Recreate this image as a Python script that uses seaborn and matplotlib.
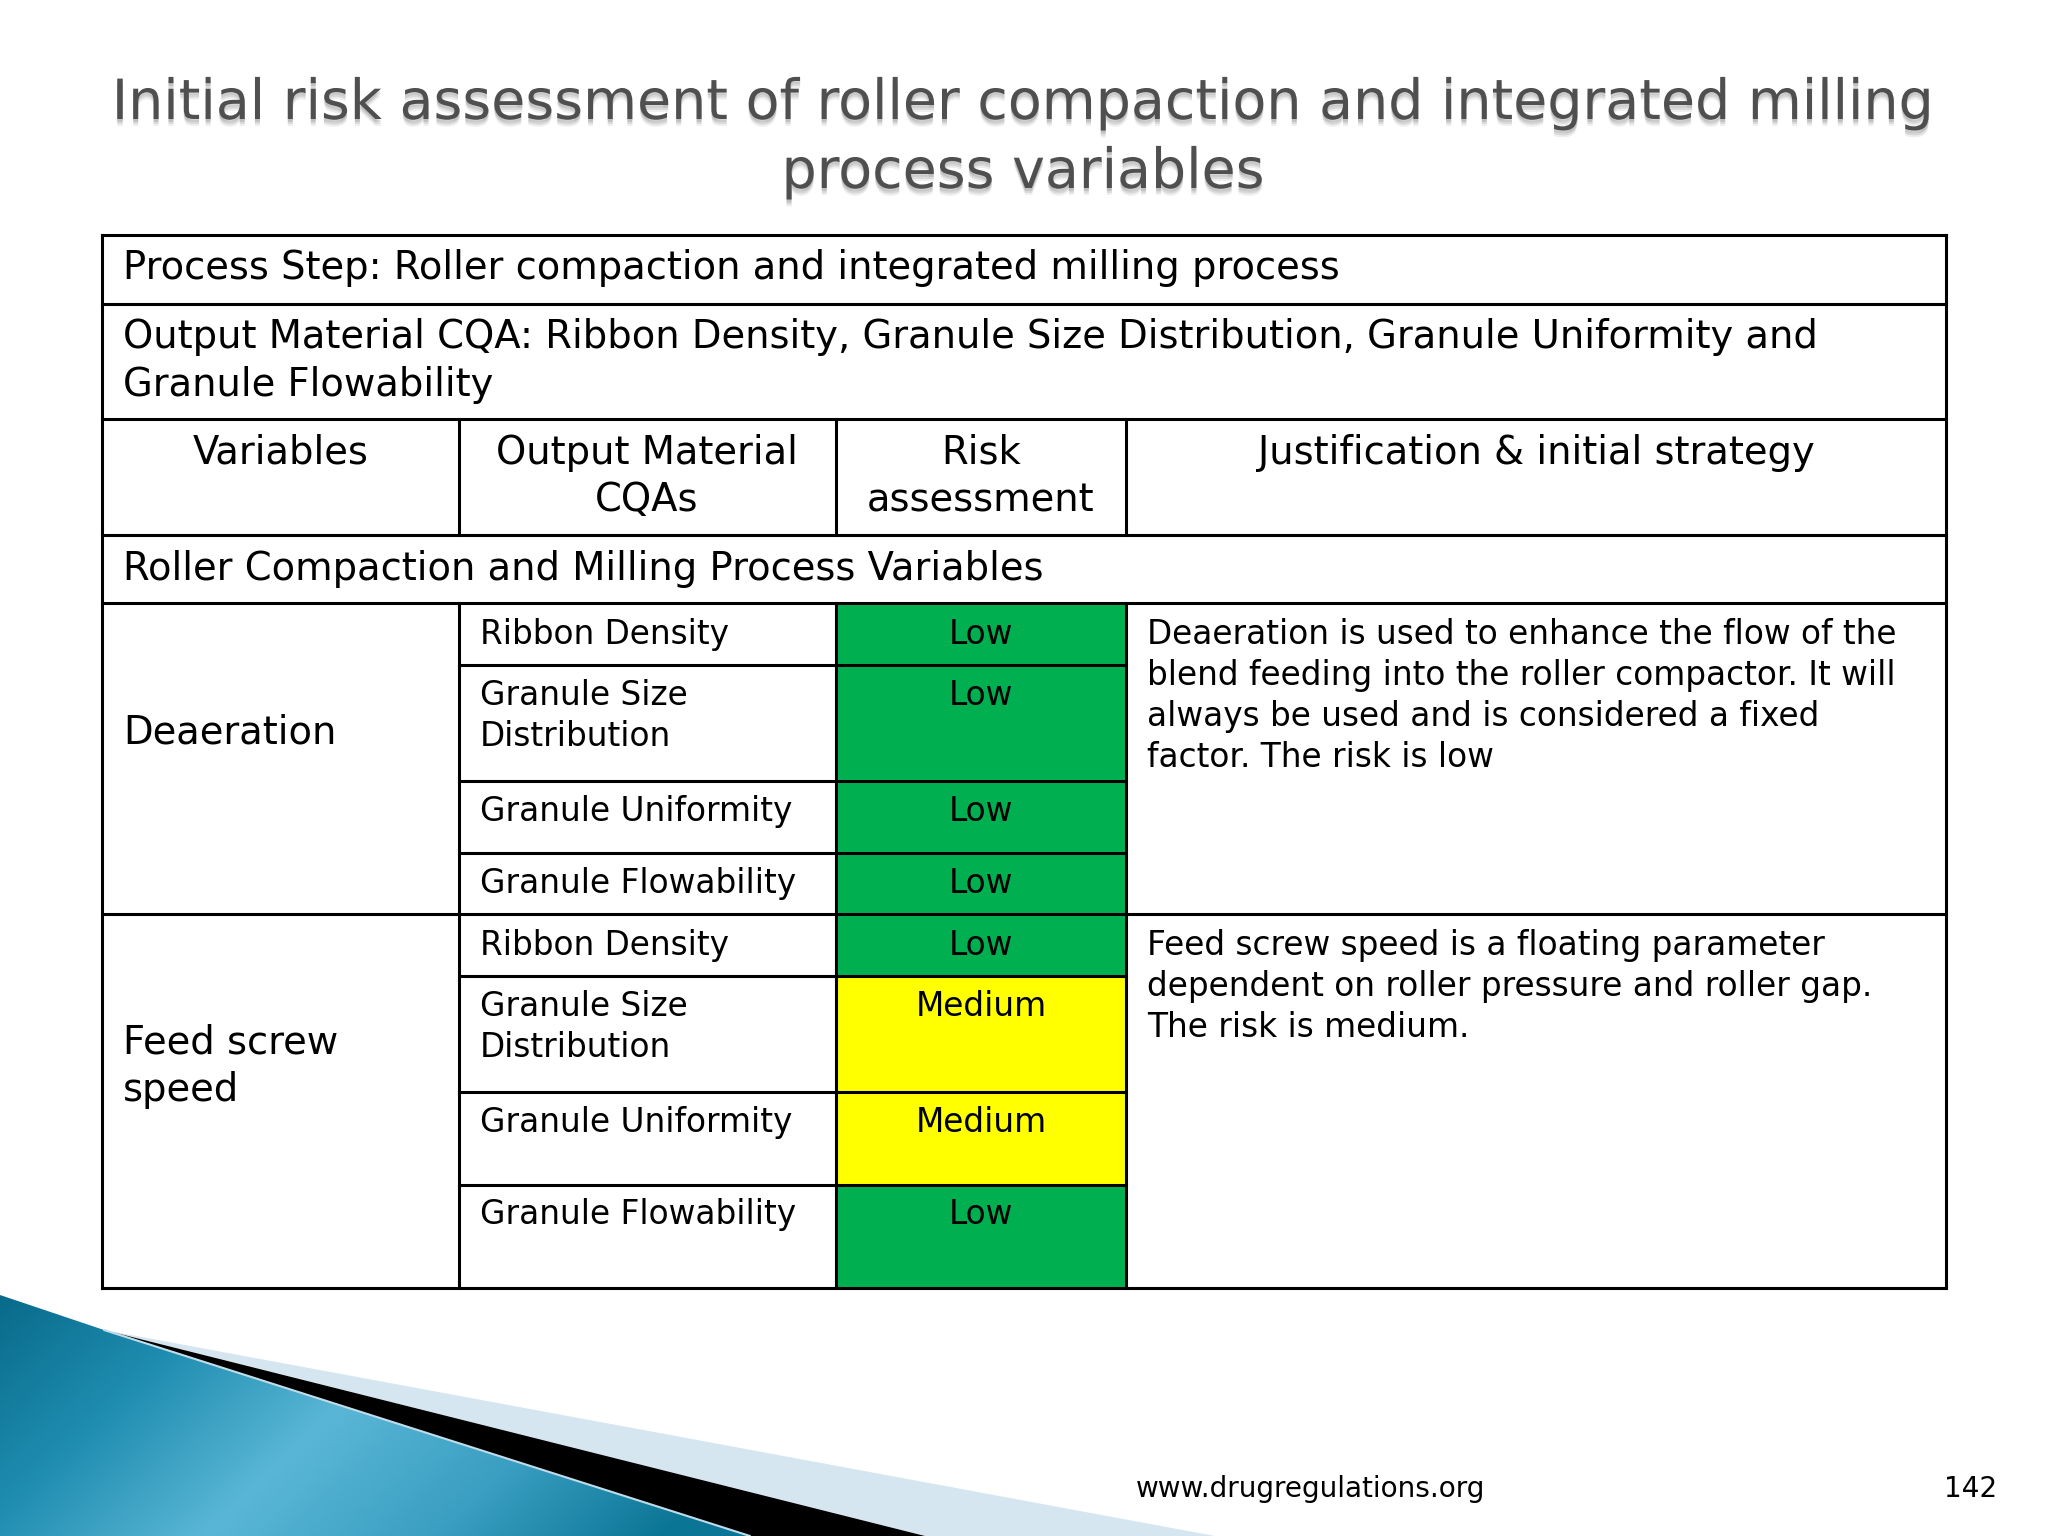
import numpy as np
import matplotlib
matplotlib.use("Agg")
import matplotlib.pyplot as plt
import matplotlib.patheffects as pe
import seaborn as sns
from matplotlib.colors import ListedColormap, LinearSegmentedColormap
from matplotlib.patches import Polygon

sns.set_theme(style="white")
plt.rcParams['font.family'] = ['DejaVu Sans']

title_lines = ["Initial risk assessment of roller compaction and integrated milling", "process variables"]
step_text = "Process Step: Roller compaction and integrated milling process"
output_lines = ["Output Material CQA: Ribbon Density, Granule Size Distribution, Granule Uniformity and", "Granule Flowability"]
section_text = "Roller Compaction and Milling Process Variables"
cqas = [["Ribbon Density"], ["Granule Size", "Distribution"], ["Granule Uniformity"], ["Granule Flowability"],
        ["Ribbon Density"], ["Granule Size", "Distribution"], ["Granule Uniformity"], ["Granule Flowability"]]
risk_labels = ["Low", "Low", "Low", "Low", "Low", "Medium", "Medium", "Low"]
level_of = {"Low": 0, "Medium": 1}
just1 = ["Deaeration is used to enhance the flow of the", "blend feeding into the roller compactor. It will",
         "always be used and is considered a fixed", "factor. The risk is low"]
just2 = ["Feed screw speed is a floating parameter", "dependent on roller pressure and roller gap.", "The risk is medium."]

W, H = 2048, 1536
X = [102, 459, 836, 1126, 1946]
Y = [235, 304, 419, 535, 603, 665, 781, 853, 914, 976, 1092, 1185, 1288]
risk_cmap = ListedColormap(["#00B050", "#FFFF00"])

fig = plt.figure(figsize=(20.48, 15.36), dpi=100, facecolor="white")
ax = fig.add_axes([0, 0, 1, 1])
ax.set_xlim(0, W); ax.set_ylim(H, 0); ax.axis("off")

# decorative corner
light = Polygon([(104, 1330), (1215, 1536), (925, 1536)], fc="#D6E6F0", ec="none", zorder=1)
ax.add_patch(light)
black = Polygon([(112, 1332), (925, 1536), (750, 1536)], fc="black", ec="none", zorder=2)
ax.add_patch(black)
blue = Polygon([(0, 1295), (104, 1330), (750, 1536), (0, 1536)], fc="none", ec="none", zorder=3)
ax.add_patch(blue)
grad = LinearSegmentedColormap.from_list("g", ["#086A8A", "#1F8DB0", "#5AB6D6", "#3A9FC2", "#0B7596"])
gx, gy = np.meshgrid(np.linspace(0, 1, 300), np.linspace(0, 1, 120))
im = ax.imshow(np.clip(0.82 * gx + 0.28 * gy, 0, 1), extent=[0, 760, H, 1290], origin="upper",
               cmap=grad, aspect="auto", zorder=3)
im.set_clip_path(blue)
ax.set_xlim(0, W); ax.set_ylim(H, 0)
ax.plot([104, 750], [1330, 1536], color="#BFDCE8", lw=1.5, zorder=4)

# risk cells
for i, lab in enumerate(risk_labels):
    y0, y1 = Y[4 + i], Y[5 + i]
    cax = fig.add_axes([X[2] / W, 1 - y1 / H, (X[3] - X[2]) / W, (y1 - y0) / H], zorder=0.5)
    sns.heatmap(np.array([[level_of[lab]]]), ax=cax, cmap=risk_cmap, vmin=0, vmax=1, cbar=False,
                xticklabels=False, yticklabels=False)
ax.set_zorder(2); ax.patch.set_visible(False)

# grid
lw = 2.2
def hl(y, a=X[0], b=X[4]): ax.plot([a, b], [y, y], color="black", lw=lw, zorder=5, solid_capstyle="projecting")
def vl(x, a, b): ax.plot([x, x], [a, b], color="black", lw=lw, zorder=5, solid_capstyle="projecting")
for y in [Y[0], Y[1], Y[2], Y[3], Y[4], Y[8], Y[12]]:
    hl(y)
for y in Y[5:8] + Y[9:12]:
    hl(y, X[1], X[3])
vl(X[0], Y[0], Y[12]); vl(X[4], Y[0], Y[12])
for x in X[1:4]:
    vl(x, Y[2], Y[3]); vl(x, Y[4], Y[12])

BIG, SMALL = 27.75, 23.6
def t(x, y, s, size=BIG, ha="left", color="black", **kw):
    return ax.text(x, y, s, fontsize=size, ha=ha, va="baseline", color=color, zorder=6, **kw)

# title with soft shadow
TX = 1023
shadow = [pe.SimplePatchShadow(offset=(0, -d), shadow_rgbFace="#777777", alpha=a)
          for d, a in [(5, .12), (3.5, .18), (2, .25)]] + [pe.Normal()]
for ln, yb in zip(title_lines, [119, 188]):
    t(TX, yb, ln, size=39.9, ha="center", color="#4F4F4F", path_effects=shadow)

t(123, 279, step_text)
t(123, 348, output_lines[0]); t(123, 396, output_lines[1])
t(281, 464, "Variables", ha="center")
t(647, 464, "Output Material", ha="center"); t(647, 511, "CQAs", ha="center")
t(981, 464, "Risk", ha="center"); t(981, 511, "assessment", ha="center")
t(1536, 464, "Justification & initial strategy", ha="center")
t(123, 580, section_text)
t(123, 743, "Deaeration")
t(123, 1054, "Feed screw"); t(123, 1101, "speed")

base = [644, 705, 821, 893, 955, 1016, 1132, 1224]
for lines, lab, yb in zip(cqas, risk_labels, base):
    for k, ln in enumerate(lines):
        t(480, yb + 41 * k, ln, size=SMALL)
    t(981, yb, lab, size=SMALL, ha="center")
for k, ln in enumerate(just1):
    t(1147, 644 + 41 * k, ln, size=SMALL)
for k, ln in enumerate(just2):
    t(1147, 955 + 41 * k, ln, size=SMALL)

t(1136, 1497, "www.drugregulations.org", size=20.1)
t(1997, 1497, "142", size=20.1, ha="right")

fig.savefig("out.png", dpi=100)
